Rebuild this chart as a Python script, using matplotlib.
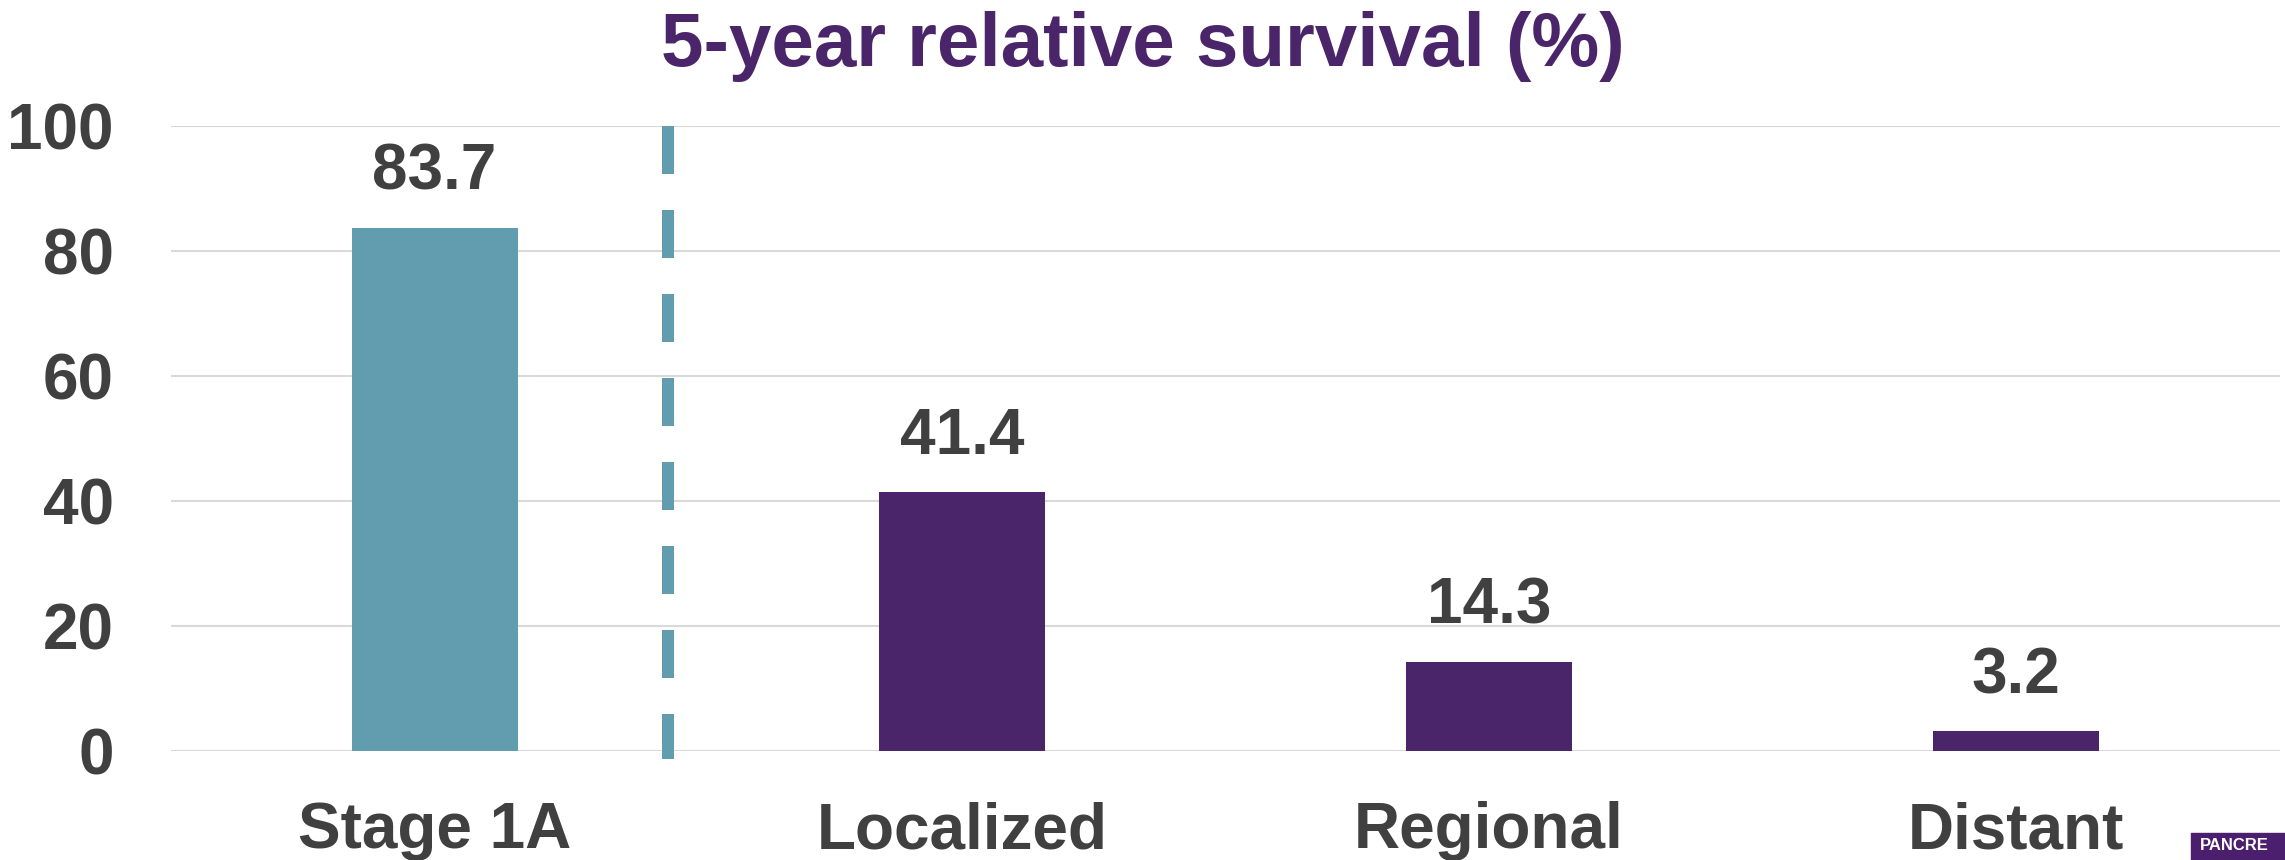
import matplotlib.pyplot as plt
from matplotlib.patches import Rectangle

categories = ["Stage 1A", "Localized", "Regional", "Distant"]
survival = [83.7, 41.4, 14.3, 3.2]
bar_colors = ["#619DAF", "#4B2569", "#4B2569", "#4B2569"]
y_ticks = [0, 20, 40, 60, 80, 100]

text_col = "#404040"
purple = "#4B2569"
teal = "#619DAF"

plt.rcParams['font.family'] = ['Liberation Sans', 'DejaVu Sans']

fig = plt.figure(figsize=(22.85, 8.6), dpi=100)
ax = fig.add_axes([0.0748, 0.1267, 0.923, 0.7268])

x = list(range(len(categories)))
ax.bar(x, survival, width=0.315, color=bar_colors, zorder=3)
for xi, v in zip(x, survival):
    ax.annotate(f"{v}", (xi, v), xytext=(0, 18), textcoords='offset points',
                ha='center', va='bottom', fontsize=46, fontweight='bold',
                color=text_col)

# dashed separator between Stage 1A and the other stages
ax.plot([0.443, 0.443], [100, -1.3], color=teal, linewidth=8.64,
        linestyle=(0, (4, 3)), dash_capstyle='butt', clip_on=False, zorder=4)

ax.set_xlim(-0.5, 3.5)
ax.set_ylim(0, 100)
ax.set_yticks(y_ticks)
ax.set_xticks(x)
ax.set_xticklabels(categories)
ax.grid(axis='y', color='#D9D9D9', linewidth=1.5, zorder=0)
ax.set_axisbelow(True)
for s in ax.spines.values():
    s.set_visible(False)
ax.tick_params(axis='both', length=0, labelsize=46, labelcolor=text_col)
ax.tick_params(axis='y', pad=41)
ax.tick_params(axis='x', pad=36)
for lab in ax.get_xticklabels() + ax.get_yticklabels():
    lab.set_fontweight('bold')

fig.text(0.5, 1 - 66 / 860, "5-year relative survival (%)", ha='center',
         va='baseline', fontsize=55, fontweight='bold', color=purple,
         family=['Liberation Sans Narrow', 'Liberation Sans', 'DejaVu Sans'])

# corner logo strip
fig.patches.append(Rectangle((2191 / 2285, 0), 1, 27 / 860, transform=fig.transFigure,
                             color='#4B1E6E', zorder=5))
fig.text(2200 / 2285, 1 - 838 / 860, "PANCRE", ha='left', va='top',
         fontsize=12, fontweight='bold', color='white', zorder=6)

fig.savefig("out.png", dpi=100, facecolor='white')
